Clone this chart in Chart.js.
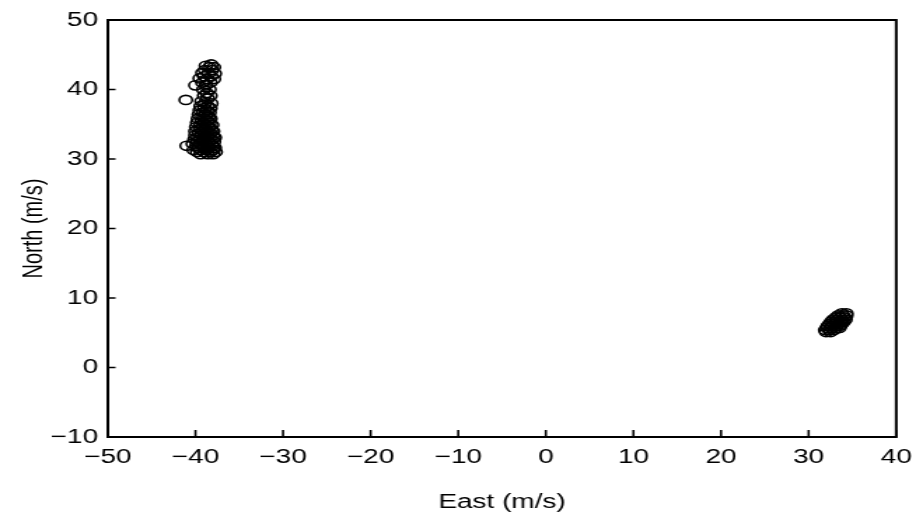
<!DOCTYPE html>
<html>
<head>
<meta charset="utf-8">
<script src="https://cdn.jsdelivr.net/npm/chart.js@4.4.1/dist/chart.umd.min.js"></script>
<style>
  html, body { margin: 0; padding: 0; background: #fff; overflow: hidden; }
  #wrap { width: 659px; height: 517px; transform: scaleX(1.4006); transform-origin: 0 0; }
</style>
</head>
<body>
<div id="wrap"><canvas id="c" width="659" height="517"></canvas></div>
<script>
// axis ticks
const xTicks = [-50, -40, -30, -20, -10, 0, 10, 20, 30, 40];
const yTicks = [-10, 0, 10, 20, 30, 40, 50];

// first cluster (east, north) in m/s
const eastA = [
  -39.4, -38.6, -38.0,
  -39.8, -39.0, -38.3, -37.7,
  -40.2, -39.4, -38.7, -38.0,
  -39.7, -39.0, -38.4, -37.8,
  -41.0, -39.9, -39.2, -38.6, -38.0,
  -40.3, -39.5, -38.8, -38.2,
  -39.8, -39.1, -38.5, -37.9,
  -40.1, -39.4, -38.7, -38.1,
  -39.7, -39.0, -38.4, -37.8,
  -40.0, -39.3, -38.6, -38.0,
  -39.6, -38.9, -38.3,
  -40.0, -39.2, -38.6, -38.0,
  -39.5, -38.8, -38.2,
  -39.9, -39.1, -38.5,
  -39.4, -38.7, -38.1,
  -39.8, -39.0, -38.4,
  -39.3, -38.6,
  -39.7, -38.9, -38.3,
  -39.2, -38.5,
  -39.6, -38.8,
  -39.1, -38.4,
  -39.5, -38.7,
  -39.0, -38.3,
  -39.4, -38.6,
  -38.9, -38.2,
  -39.3,
  -41.1,
  -38.6,
  -39.0, -38.3,
  -38.7,
  -39.1, -38.4,
  -40.0, -38.8,
  -39.2, -38.3,
  -38.7, -37.9, -39.5,
  -39.0, -38.2,
  -38.5, -37.8, -39.2,
  -38.9, -38.1,
  -38.4, -37.9, -38.8,
  -38.2
];
const northA = [
  30.7, 30.7, 30.7,
  31.0, 31.0, 31.0, 31.0,
  31.3, 31.3, 31.3, 31.3,
  31.6, 31.6, 31.6, 31.6,
  31.9, 31.9, 31.9, 31.9, 31.9,
  32.2, 32.2, 32.2, 32.2,
  32.5, 32.5, 32.5, 32.5,
  32.8, 32.8, 32.8, 32.8,
  33.1, 33.1, 33.1, 33.1,
  33.4, 33.4, 33.4, 33.4,
  33.7, 33.7, 33.7,
  34.0, 34.0, 34.0, 34.0,
  34.3, 34.3, 34.3,
  34.6, 34.6, 34.6,
  34.9, 34.9, 34.9,
  35.2, 35.2, 35.2,
  35.5, 35.5,
  35.8, 35.8, 35.8,
  36.1, 36.1,
  36.4, 36.4,
  36.7, 36.7,
  37.0, 37.0,
  37.3, 37.3,
  37.6, 37.6,
  38.0, 38.0,
  38.3,
  38.5,
  38.7,
  39.1, 39.1,
  39.5,
  40.0, 40.0,
  40.6, 40.6,
  41.0, 41.0,
  41.5, 41.5, 41.6,
  41.9, 41.9,
  42.3, 42.3, 42.4,
  42.8, 42.8,
  43.2, 43.2, 43.4,
  43.6
];

// second cluster
const eastB = [
  32.0, 32.5,
  31.9, 32.4, 32.9,
  32.1, 32.6, 33.1, 33.5,
  32.2, 32.7, 33.2, 33.6,
  32.4, 32.9, 33.4, 33.8,
  32.6, 33.1, 33.6, 34.0,
  32.8, 33.3, 33.8, 34.2,
  33.1, 33.6, 34.1,
  33.4, 33.9, 34.3,
  33.8, 34.3
];
const northB = [
  5.1, 5.1,
  5.4, 5.4, 5.4,
  5.7, 5.7, 5.7, 5.7,
  6.0, 6.0, 6.0, 6.0,
  6.3, 6.3, 6.3, 6.3,
  6.6, 6.6, 6.6, 6.6,
  6.9, 6.9, 6.9, 6.9,
  7.2, 7.2, 7.2,
  7.5, 7.5, 7.5,
  7.8, 7.8
];

const pts = eastA.map((e, i) => ({ x: e, y: northA[i] }))
  .concat(eastB.map((e, i) => ({ x: e, y: northB[i] })));

const minus = v => String(v).replace('-', '\u2212');
const font = { family: '"Liberation Sans", Arial, sans-serif', size: 20 };

// box + inward ticks, matlab style
const frame = {
  id: 'frame',
  afterDatasetsDraw(chart) {
    const { ctx, chartArea: a, scales: { x, y } } = chart;
    ctx.save();
    ctx.strokeStyle = '#000';
    ctx.lineWidth = 2;
    ctx.strokeRect(a.left, a.top, a.right - a.left, a.bottom - a.top);
    ctx.lineWidth = 1.6;
    ctx.beginPath();
    xTicks.forEach(t => { const px = x.getPixelForValue(t); ctx.moveTo(px, a.bottom); ctx.lineTo(px, a.bottom - 7); });
    yTicks.forEach(t => { const py = y.getPixelForValue(t); ctx.moveTo(a.left, py); ctx.lineTo(a.left + 5.5, py); });
    ctx.stroke();
    ctx.restore();
  }
};

new Chart(document.getElementById('c'), {
  type: 'scatter',
  data: {
    datasets: [{
      data: pts,
      pointStyle: 'circle',
      pointRadius: 4.6,
      pointBorderWidth: 1.6,
      borderColor: '#000',
      backgroundColor: 'rgba(0,0,0,0)'
    }]
  },
  options: {
    responsive: false,
    animation: false,
    devicePixelRatio: 1,
    layout: { padding: { top: 20, right: 18, left: 0, bottom: 0 } },
    plugins: { legend: { display: false }, tooltip: { enabled: false } },
    scales: {
      x: {
        type: 'linear', min: -50, max: 40,
        afterBuildTicks: s => { s.ticks = xTicks.map(v => ({ value: v })); },
        afterFit: s => { s.height = 80; },
        grid: { display: false, drawTicks: false },
        border: { display: false },
        ticks: { color: '#000', font, padding: 8, maxRotation: 0, autoSkip: false, callback: minus },
        title: { display: true, text: 'East (m/s)', color: '#000', font, padding: { top: 0, bottom: 3 } }
      },
      y: {
        type: 'linear', min: -10, max: 50,
        afterBuildTicks: s => { s.ticks = yTicks.map(v => ({ value: v })); },
        afterFit: s => { s.width = 77; },
        grid: { display: false, drawTicks: false },
        border: { display: false },
        ticks: { color: '#000', font, padding: 7, autoSkip: false, callback: minus },
        title: { display: true, text: 'North (m/s)', color: '#000', font, padding: { top: 12, bottom: 0 } }
      }
    }
  },
  plugins: [frame]
});
</script>
</body>
</html>
